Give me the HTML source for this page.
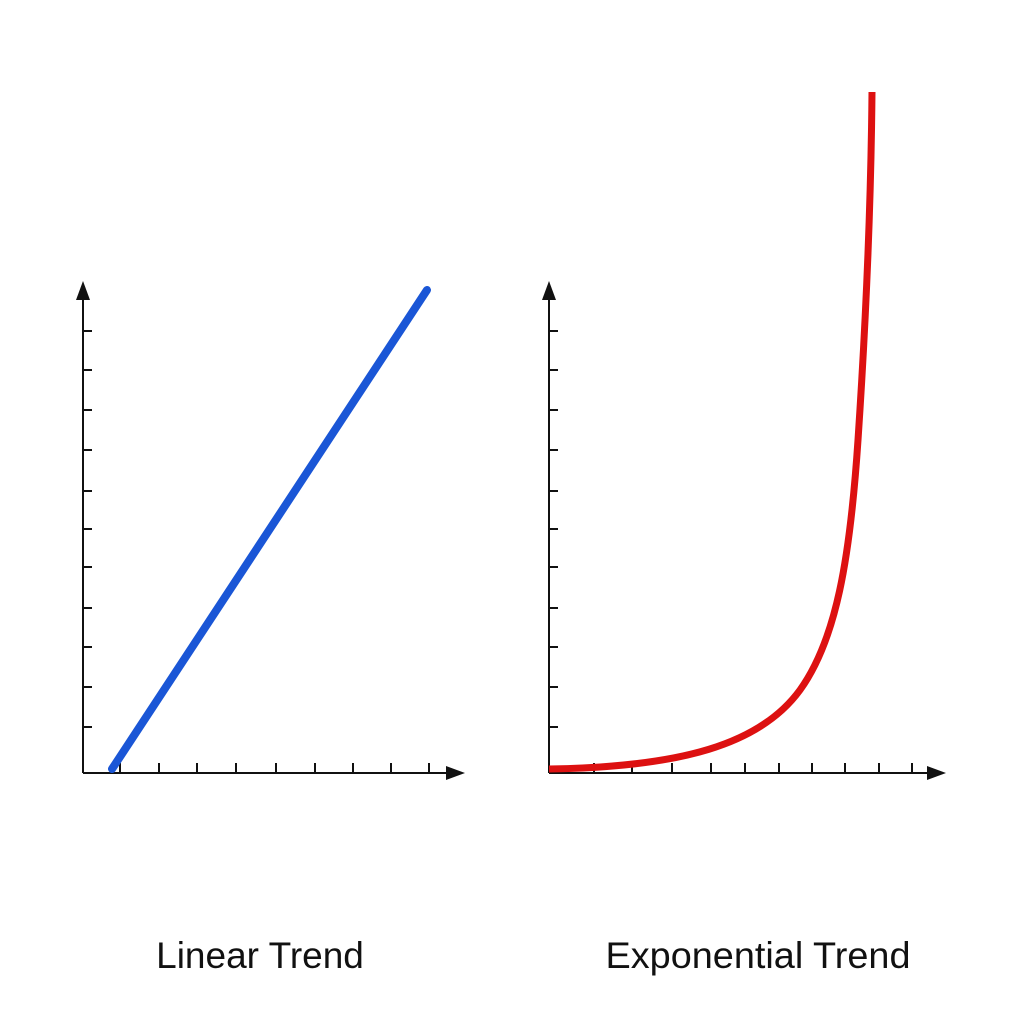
<!DOCTYPE html>
<html><head><meta charset="utf-8"><style>
html,body{margin:0;padding:0;background:#fff}
svg{display:block}
</style></head><body>
<svg width="1024" height="1024" viewBox="0 0 1024 1024" xmlns="http://www.w3.org/2000/svg">
<rect width="1024" height="1024" fill="#fff"/>
<g stroke="#111" stroke-width="2" fill="none">
  <line x1="83" y1="773" x2="83" y2="296"/>
  <line x1="83" y1="773" x2="450" y2="773"/>
  <line x1="549" y1="773" x2="549" y2="296"/>
  <line x1="549" y1="773" x2="930" y2="773"/>
  <path d="M83 331h9M83 370h9M83 410h9M83 450h9M83 491h9M83 529h9M83 567h9M83 608h9M83 647h9M83 687h9M83 727h9"/>
  <path d="M549 331h9M549 370h9M549 410h9M549 450h9M549 491h9M549 529h9M549 567h9M549 608h9M549 647h9M549 687h9M549 727h9"/>
  <path d="M120 773v-10M159 773v-10M197 773v-10M236 773v-10M276 773v-10M315 773v-10M353 773v-10M391 773v-10M429 773v-10"/>
  <path d="M594 773v-10M632 773v-10M672 773v-10M711 773v-10M745 773v-10M779 773v-10M812 773v-10M845 773v-10M879 773v-10M912 773v-10"/>
</g>
<g fill="#111">
  <polygon points="83,281 76,300 90,300"/>
  <polygon points="465,773 446,766 446,780"/>
  <polygon points="549,281 542,300 556,300"/>
  <polygon points="946,773 927,766 927,780"/>
</g>
<line x1="112" y1="769" x2="427" y2="290" stroke="#1a56d6" stroke-width="8" stroke-linecap="round"/>
<path fill="none" stroke="#dd1111" stroke-width="7" stroke-linejoin="round"
 d="M549,769 C680,767 760,745 800,690 C836,640 850,560 858,440 C866,320 871,200 872,92"/>
<text x="260" y="968" text-anchor="middle" font-family="Liberation Sans, sans-serif" font-size="37" fill="#111">Linear Trend</text>
<text x="758" y="968" text-anchor="middle" font-family="Liberation Sans, sans-serif" font-size="37" fill="#111" textLength="305" lengthAdjust="spacingAndGlyphs">Exponential Trend</text>
</svg>
</body></html>
